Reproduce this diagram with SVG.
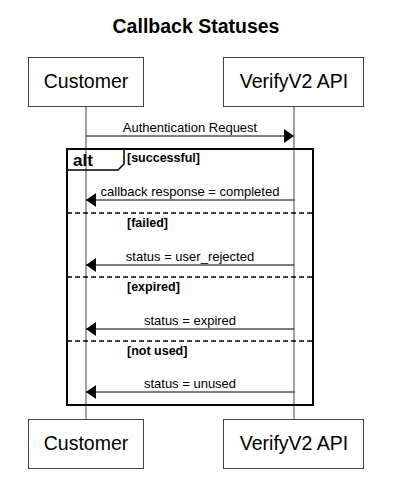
<svg xmlns="http://www.w3.org/2000/svg" width="400" height="499" viewBox="0 0 400 499">
<style>
text{font-family:"Liberation Sans",Arial,sans-serif;fill:#000}
.title{font-size:19.5px;font-weight:bold;text-anchor:middle}
.box{fill:#fff;stroke:#444;stroke-width:1}
.pl{font-size:19.5px;text-anchor:middle}
.life{stroke:#444;stroke-width:1}
.msg{stroke:#000;stroke-width:1}
.lbl{font-size:13px;text-anchor:middle}
.frame{fill:none;stroke:#000;stroke-width:2}
.sep{stroke:#000;stroke-width:1.5;stroke-dasharray:5,3}
.guard{font-size:12.5px;font-weight:bold}
.alt{font-size:17px;font-weight:bold}
</style>
<defs>
<marker id="ah" viewBox="0 0 10 14" refX="10" refY="7" markerWidth="10" markerHeight="14" markerUnits="userSpaceOnUse" orient="auto">
<path d="M0,0 L10,7 L0,14 Z" fill="#000"/>
</marker>
</defs>
<text class="title" x="196" y="33">Callback Statuses</text>
<g id="lifelines">
<line class="life" x1="86" y1="106" x2="86" y2="419"/>
<line class="life" x1="294" y1="106" x2="294" y2="419"/>
</g>
<g id="customer-top"><rect class="box" x="28.5" y="57.5" width="115" height="49"/><text class="pl" x="86" y="88">Customer</text></g>
<g id="verify-top"><rect class="box" x="223.5" y="57.5" width="140" height="49"/><text class="pl" x="294" y="88">VerifyV2 API</text></g>
<g id="customer-bottom"><rect class="box" x="28.5" y="419.5" width="115" height="49"/><text class="pl" x="86" y="450">Customer</text></g>
<g id="verify-bottom"><rect class="box" x="223.5" y="419.5" width="140" height="49"/><text class="pl" x="294" y="450">VerifyV2 API</text></g>
<g id="alt-frame">
<rect class="frame" x="67" y="149" width="246" height="256"/>
<path d="M67,170 L118,170 L124,164 L124,149" fill="none" stroke="#000" stroke-width="1.5"/>
<text class="alt" x="73" y="166">alt</text>
<text class="guard" x="127" y="162">[successful]</text>
<line class="sep" x1="67" y1="213" x2="313" y2="213"/>
<text class="guard" x="127" y="227">[failed]</text>
<line class="sep" x1="67" y1="277" x2="313" y2="277"/>
<text class="guard" x="127" y="291">[expired]</text>
<line class="sep" x1="67" y1="341" x2="313" y2="341"/>
<text class="guard" x="127" y="355">[not used]</text>
</g>
<g id="connectors">
<line class="msg" x1="86" y1="136" x2="294" y2="136" marker-end="url(#ah)"/>
<text class="lbl" x="190" y="132">Authentication Request</text>
<line class="msg" x1="294" y1="200" x2="86" y2="200" marker-end="url(#ah)"/>
<text class="lbl" x="190" y="196">callback response = completed</text>
<line class="msg" x1="294" y1="265" x2="86" y2="265" marker-end="url(#ah)"/>
<text class="lbl" x="190" y="261">status = user_rejected</text>
<line class="msg" x1="294" y1="329" x2="86" y2="329" marker-end="url(#ah)"/>
<text class="lbl" x="190" y="325">status = expired</text>
<line class="msg" x1="294" y1="392" x2="86" y2="392" marker-end="url(#ah)"/>
<text class="lbl" x="190" y="388">status = unused</text>
</g>
</svg>
